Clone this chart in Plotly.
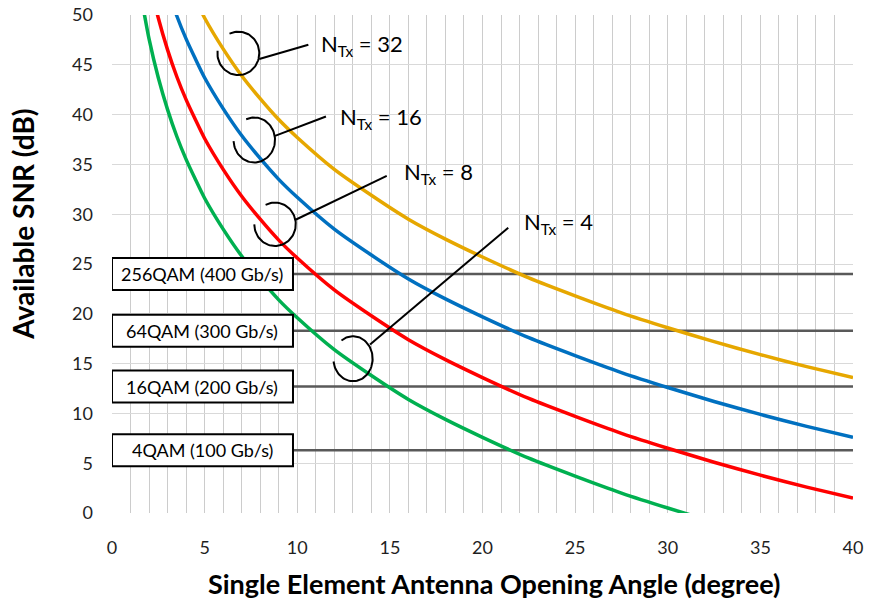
import numpy as np
import plotly.graph_objects as go

# Opening angle samples (degree)
angle = [1.5, 2, 2.5, 3, 3.5, 4, 4.5, 5, 6, 7, 8, 9, 10, 12, 14, 16, 18, 20,
         22.5, 25, 27.5, 30, 32.5, 35, 37.5, 40]

# Available SNR (dB) per number of transmit elements
snr_n4 = [52.6, 47.6, 43.7, 40.5, 37.8, 35.5, 33.5, 31.6, 28.5, 25.8, 23.5, 21.4, 19.6,
          16.4, 13.8, 11.4, 9.4, 7.6, 5.5, 3.7, 2.0, 0.5, -0.9, -2.2, -3.4, -4.5]
snr_n8 = [58.6, 53.6, 49.7, 46.5, 43.8, 41.5, 39.5, 37.6, 34.5, 31.8, 29.5, 27.4, 25.6,
          22.4, 19.8, 17.4, 15.4, 13.6, 11.5, 9.7, 8.0, 6.5, 5.1, 3.8, 2.6, 1.5]
snr_n16 = [64.7, 59.7, 55.8, 52.6, 49.9, 47.6, 45.6, 43.7, 40.6, 37.9, 35.6, 33.5, 31.7,
           28.5, 25.9, 23.5, 21.5, 19.7, 17.6, 15.8, 14.1, 12.6, 11.2, 9.9, 8.7, 7.6]
snr_n32 = [70.7, 65.7, 61.8, 58.6, 55.9, 53.6, 51.6, 49.7, 46.6, 43.9, 41.6, 39.5, 37.7,
           34.5, 31.9, 29.5, 27.5, 25.7, 23.6, 21.8, 20.1, 18.6, 17.2, 15.9, 14.7, 13.6]

# Required SNR per modulation format
mod_labels = ["256QAM (400 Gb/s)", "64QAM (300 Gb/s)", "16QAM (200 Gb/s)", "4QAM (100 Gb/s)"]
mod_snr = [24.0, 18.3, 12.7, 6.3]

x_ticks = [0, 5, 10, 15, 20, 25, 30, 35, 40]
y_ticks = [0, 5, 10, 15, 20, 25, 30, 35, 40, 45, 50]

FONT = "Lato"
BOX_RIGHT = 9.77      # right edge of the modulation label boxes (degree)
BOX_HALF = 1.6        # half height of the label boxes (dB)

fig = go.Figure()

# Modulation threshold lines, running from the label box to the right edge
for thr in mod_snr:
    fig.add_trace(go.Scatter(x=[BOX_RIGHT, 40.1], y=[thr, thr], mode="lines",
                             line=dict(color="#595959", width=2.5),
                             cliponaxis=False, hoverinfo="skip", showlegend=False))

series = [
    ("N=4", snr_n4, "#00b050"),
    ("N=8", snr_n8, "#ff0000"),
    ("N=16", snr_n16, "#0070c0"),
    ("N=32", snr_n32, "#e6a700"),
]
for name, vals, col in series:
    fig.add_trace(go.Scatter(x=angle, y=vals, mode="lines", name=name,
                             line=dict(color=col, width=3.5, shape="spline", smoothing=0.6),
                             showlegend=False))

# Open circle markers with leader lines and N_Tx labels
callouts = [
    # centre x, centre y, rx, ry, gap start, gap end (deg), leader from, leader to, label pos, label
    (6.82, 46.15, 1.13, 2.18, 115, 173, (7.95, 45.58), (10.60, 47.01), (11.17, 47.0), "32"),
    (7.68, 37.45, 1.12, 2.26, 113, 183, (8.80, 37.86), (11.55, 39.81), (12.20, 39.7), "16"),
    (8.80, 28.99, 1.12, 2.18, 117, 180, (9.88, 29.42), (14.83, 33.84), (15.65, 34.1), "8"),
    (13.01, 15.49, 1.06, 2.26, 126, 187, (13.93, 16.92), (21.39, 28.65), (22.13, 29.1), "4"),
]
for cx, cy, rx, ry, g0, g1, p0, p1, lp, lab in callouts:
    t = np.radians(np.linspace(g1, g0 + 360, 80))
    fig.add_trace(go.Scatter(x=cx + rx * np.cos(t), y=cy + ry * np.sin(t), mode="lines",
                             line=dict(color="black", width=2), hoverinfo="skip",
                             showlegend=False))
    fig.add_shape(type="line", x0=p0[0], y0=p0[1], x1=p1[0], y1=p1[1],
                  line=dict(color="black", width=2), layer="above")
    fig.add_annotation(x=lp[0], y=lp[1], xanchor="left", yanchor="middle",
                       text=f"N<sub>Tx</sub> = {lab}", showarrow=False,
                       font=dict(family=FONT, size=22, color="black"))

# Modulation label boxes
for lab, thr in zip(mod_labels, mod_snr):
    fig.add_shape(type="rect", x0=0, x1=BOX_RIGHT, y0=thr - BOX_HALF, y1=thr + BOX_HALF,
                  line=dict(color="black", width=2), fillcolor="white", layer="above")
    fig.add_annotation(x=BOX_RIGHT / 2, y=thr, text=lab, showarrow=False,
                       font=dict(family=FONT, size=18, color="black"))

# Axis titles
fig.add_annotation(xref="paper", yref="paper", x=0.516, y=-0.142,
                   xanchor="center", yanchor="middle",
                   text="<b>Single Element Antenna Opening Angle (degree)</b>",
                   showarrow=False, font=dict(family=FONT, size=27, color="black"))
fig.add_annotation(xref="paper", yref="paper", x=-0.12, y=0.579,
                   xanchor="center", yanchor="middle",
                   text="<b>Available SNR (dB)</b>",
                   textangle=-90, showarrow=False, font=dict(family=FONT, size=28, color="black"))

fig.update_xaxes(range=[0, 40], tickvals=x_ticks, ticktext=[str(v) for v in x_ticks],
                 showgrid=True, gridcolor="#cccccc", gridwidth=1,
                 minor=dict(dtick=1, showgrid=True, gridcolor="#cccccc", gridwidth=1),
                 zeroline=False, showline=False, ticks="", automargin=False,
                 ticklabelstandoff=22,
                 tickfont=dict(family=FONT, size=18, color="#1f1f1f"))
fig.update_yaxes(range=[0, 50], tickvals=y_ticks, ticktext=[str(v) for v in y_ticks],
                 showgrid=True, gridcolor="#d9d9d9", gridwidth=1,
                 zeroline=False, showline=False, ticks="", automargin=False,
                 ticklabelstandoff=18,
                 tickfont=dict(family=FONT, size=18, color="#1f1f1f"))

fig.update_layout(width=869, height=603, margin=dict(l=112, r=16, t=15, b=90, autoexpand=False),
                  plot_bgcolor="white", paper_bgcolor="white", showlegend=False)

fig.write_html("out.html")
